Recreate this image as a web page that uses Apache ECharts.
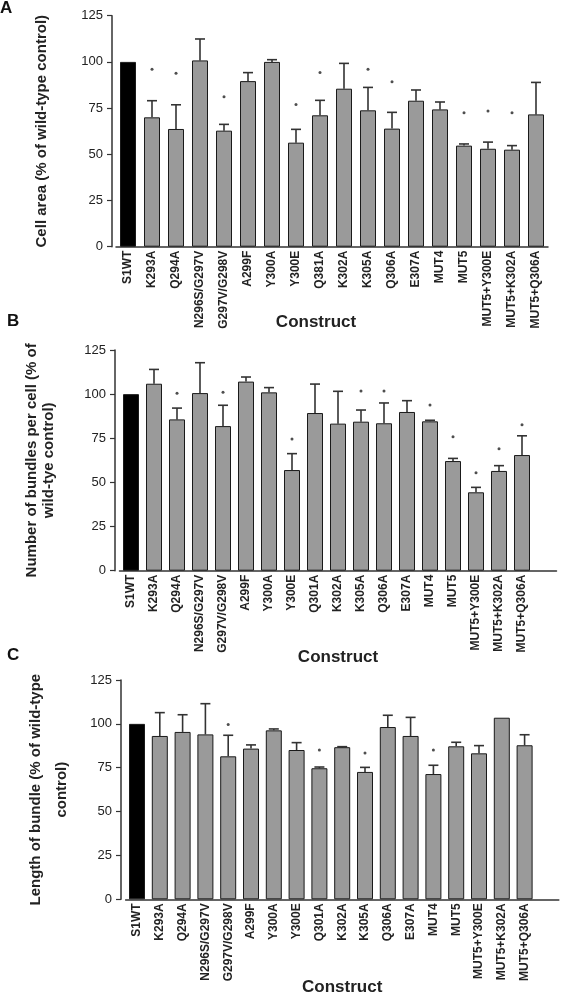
<!DOCTYPE html>
<html>
<head>
<meta charset="utf-8">
<script src="https://cdn.jsdelivr.net/npm/echarts@6/dist/echarts.min.js"></script>
<style>html,body{margin:0;padding:0;background:#fff}#c{width:571px;height:998px}</style>
</head>
<body>
<div id="c"></div>
<script>
const categoriesA = ['S1WT','K293A','Q294A','N296S/G297V','G297V/G298V','A299F','Y300A','Y300E','Q381A','K302A','K305A','Q306A','E307A','MUT4','MUT5','MUT5+Y300E','MUT5+K302A','MUT5+Q306A'];
const categoriesBC = ['S1WT','K293A','Q294A','N296S/G297V','G297V/G298V','A299F','Y300A','Y300E','Q301A','K302A','K305A','Q306A','E307A','MUT4','MUT5','MUT5+Y300E','MUT5+K302A','MUT5+Q306A'];
const yTicks = [0,25,50,75,100,125];

const meanA = [100,70,63.7,100.8,62.8,89.6,100,56.3,71.1,85.5,73.8,63.9,79,74.3,54.7,53,52.5,71.6];
const errA  = [null,79,76.8,112.4,66.2,94.2,101.2,63.5,79.2,99.2,86.2,72.7,84.8,78.3,55.6,56.6,54.7,88.9];
const starA = [null,96,93.8,null,81.2,null,null,77,94.2,null,96,89.3,null,null,72.5,73.4,72.5,null];

const meanB = [100,105.9,85.7,100.6,81.9,107.1,101,57,89.3,83.3,84.4,83.5,89.9,84.6,62.1,44.4,56.5,65.5];
const errB  = [null,114,92.1,117.8,93.7,109.7,103.7,66.3,105.7,101.6,91,95,96.3,85.2,63.6,47.2,59.5,76.4];
const starB = [null,null,100.5,null,101,null,null,74.6,null,null,101.8,101.8,null,93.8,75.9,55.5,69.1,82.6];

const meanC = [100,93.1,95.4,94,81.5,85.9,96.3,85.1,74.7,86.7,72.6,98.2,93.1,71.4,87.2,83.2,103.5,87.8];
const errC  = [null,106.4,105.2,111.5,93.5,88,97.1,89.3,75.4,87,75.2,104.9,103.7,76.4,89.5,87.6,null,93.8];
const starC = [null,null,null,null,99.7,null,null,null,85.1,null,83.4,null,null,85.1,null,null,null,null];

const titleA = 'Cell area (% of wild-type control)';
const titleB = 'Number of bundles per cell (% of\nwild-tye control)';
const titleC = 'Length of bundle (% of wild-type\ncontrol)';

const FONT = '"Liberation Sans", Arial, sans-serif';
const chart = echarts.init(document.getElementById('c'), null, {renderer:'canvas'});

const grids = [
  {left:116, top:15.7, width:432, height:231},
  {left:119.5, top:350, width:437, height:220.7},
  {left:125.6, top:680, width:433.2, height:219.3}
];
const panels = [
  {cats:categoriesA, pad:false, mean:meanA, err:errA, star:starA, ytitle:titleA, ygap:62, yoff:4, lh:17, xgap:67, xpad:[0,32,0,0]},
  {cats:categoriesBC, pad:true, mean:meanB, err:errB, star:starB, ytitle:titleB, ygap:58, yoff:4.5, lh:17, xgap:78, xpad:[0,0,0,0]},
  {cats:categoriesBC, pad:true, mean:meanC, err:errC, star:starC, ytitle:titleC, ygap:46, yoff:4.6, lh:26, xgap:80, xpad:[0,0,0,0]}
];

const xAxes = [], yAxes = [], series = [];
panels.forEach((p, k) => {
  xAxes.push({
    gridIndex:k, type:'category', data: p.pad ? p.cats.concat(['']) : p.cats,
    boundaryGap:true,
    axisLine:{show:true, lineStyle:{color:'#333', width:1.5}},
    axisTick:{show:false},
    axisLabel:{rotate:90, interval:0, margin:4, fontFamily:FONT, fontWeight:'bold', fontSize:12, color:'#222'},
    name:'Construct', nameLocation:'middle', nameGap:p.xgap, nameMoveOverlap:false,
    nameTextStyle:{fontFamily:FONT, fontWeight:'bold', fontSize:17, color:'#222', padding:p.xpad}
  });
  yAxes.push({
    gridIndex:k, type:'value', min:0, max:125, interval:25, offset:p.yoff,
    splitLine:{show:false},
    axisLine:{show:true, lineStyle:{color:'#333', width:1.5}},
    axisTick:{show:true, length:5, lineStyle:{color:'#333', width:1.2}},
    axisLabel:{margin:9, fontFamily:FONT, fontSize:13, color:'#222',
      formatter: v => yTicks.indexOf(v) >= 0 ? String(v) : ''},
    name:p.ytitle, nameLocation:'middle', nameRotate:90, nameGap:p.ygap, nameMoveOverlap:false,
    nameTextStyle:{fontFamily:FONT, fontWeight:'bold', fontSize:15, color:'#222', lineHeight:p.lh, align:'center'}
  });
  series.push({
    type:'bar', xAxisIndex:k, yAxisIndex:k, barWidth:16,
    data:p.mean.map((v,i)=> i===0 ? {value:v, itemStyle:{color:'#000'}} : v),
    itemStyle:{color:'#9a9a9a', borderColor:'#1a1a1a', borderWidth:1},
    silent:true, animation:false
  });
  series.push({
    type:'custom', xAxisIndex:k, yAxisIndex:k, silent:true, animation:false,
    data:p.err.map((e,i)=>[i, p.mean[i], e]).filter(d=>d[2]!=null),
    renderItem:(params, api) => {
      const base = api.coord([api.value(0), api.value(1)]);
      const top = api.coord([api.value(0), api.value(2)]);
      const st = {stroke:'#333', lineWidth:1.6};
      return {type:'group', children:[
        {type:'line', shape:{x1:base[0], y1:base[1], x2:top[0], y2:top[1]}, style:st},
        {type:'line', shape:{x1:top[0]-5, y1:top[1], x2:top[0]+5, y2:top[1]}, style:st}
      ]};
    }
  });
  series.push({
    type:'scatter', xAxisIndex:k, yAxisIndex:k, silent:true, animation:false,
    symbol:'circle', symbolSize:3,
    itemStyle:{color:'#222'},
    data:p.star.map((s,i)=>[i, s]).filter(d=>d[1]!=null)
  });
});

chart.setOption({
  animation:false,
  title:[
    {text:'A', left:0, top:0, textStyle:{fontFamily:FONT, fontWeight:'bold', fontSize:17, color:'#111'}, padding:0},
    {text:'B', left:7, top:313, textStyle:{fontFamily:FONT, fontWeight:'bold', fontSize:17, color:'#111'}, padding:0},
    {text:'C', left:7, top:647, textStyle:{fontFamily:FONT, fontWeight:'bold', fontSize:17, color:'#111'}, padding:0}
  ],
  grid:grids,
  xAxis:xAxes,
  yAxis:yAxes,
  series:series
});
</script>
</body>
</html>
